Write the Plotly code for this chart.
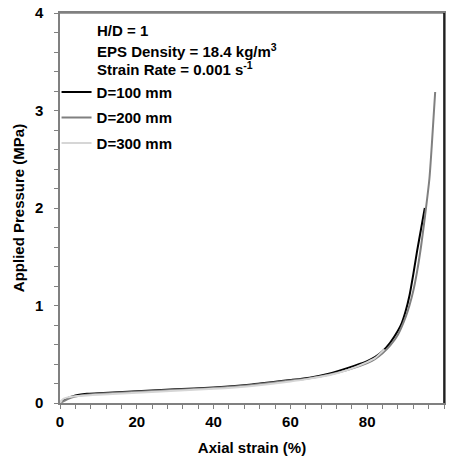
import plotly.graph_objects as go

# ---- data ----
strain_100 = [0, 0.5, 1, 2, 3, 5, 7, 10, 15, 20, 30, 40, 50, 60, 65, 70, 75, 78, 80, 82, 84, 86, 88, 89, 90, 91, 92, 93, 94, 95]
press_100 = [0, 0.02, 0.035, 0.05, 0.065, 0.085, 0.095, 0.10, 0.11, 0.12, 0.14, 0.16, 0.19, 0.235, 0.26, 0.30, 0.36, 0.40, 0.43, 0.47, 0.53, 0.62, 0.74, 0.82, 0.94, 1.10, 1.32, 1.56, 1.78, 2.0]

strain_200 = [0, 1, 2, 3, 5, 7, 10, 15, 20, 30, 40, 50, 60, 65, 70, 75, 80, 82, 84, 86, 88, 90, 91, 92, 93, 94, 95, 96.2, 96.8, 97.7]
press_200 = [0, 0.02, 0.04, 0.055, 0.075, 0.085, 0.095, 0.105, 0.115, 0.135, 0.155, 0.185, 0.23, 0.255, 0.29, 0.34, 0.41, 0.45, 0.51, 0.59, 0.70, 0.88, 1.0, 1.15, 1.35, 1.6, 1.9, 2.3, 2.63, 3.19]

strain_300 = [0, 0.5, 1, 2, 3, 5, 7, 10, 15, 20, 30, 40, 50, 60, 65, 70, 75, 80, 82, 84.5]
press_300 = [0, 0.03, 0.045, 0.058, 0.065, 0.072, 0.078, 0.085, 0.095, 0.105, 0.125, 0.145, 0.175, 0.22, 0.25, 0.285, 0.34, 0.42, 0.46, 0.55]

series_names = ["D=100 mm", "D=200 mm", "D=300 mm"]
series_colors = ["#000000", "#808080", "#d6d6d6"]

x_ticks = [0, 20, 40, 60, 80, 100]
y_ticks = [0, 1, 2, 3, 4]

annot_lines = ["H/D = 1", "EPS Density = 18.4 kg/m<sup>3</sup>", "Strain Rate = 0.001 s<sup>-1</sup>"]

FONT = "Liberation Sans, Arial, sans-serif"
FS = 15

def bfont(size=FS):
    return dict(family=FONT, size=size, color="#000000", weight="bold")

fig = go.Figure()
for i, (xs, ys) in enumerate([(strain_100, press_100), (strain_200, press_200), (strain_300, press_300)]):
    fig.add_trace(go.Scatter(
        x=xs, y=ys, mode="lines", name=series_names[i],
        line=dict(color=series_colors[i], width=2, shape="spline", smoothing=0.6),
        legendgroup=f"g{i}",
    ))

axis_common = dict(
    showgrid=False, zeroline=False, showline=True, linecolor="#808080", linewidth=1.5,
    mirror=True, ticks="outside", ticklen=4, tickcolor="#808080", tickwidth=1,
    tickfont=bfont(), automargin=False,
)

fig.update_xaxes(
    range=[0, 100], tickvals=x_ticks, ticktext=[str(v) for v in x_ticks],
    minor=dict(dtick=4, ticks="outside", ticklen=4, tickcolor="#808080"),
    title=dict(text="Axial strain (%)", font=bfont(), standoff=15),
    ticklabelstandoff=0,
    **axis_common,
)
fig.update_yaxes(
    range=[0, 4], tickvals=y_ticks, ticktext=[str(v) for v in y_ticks],
    minor=dict(dtick=0.2, ticks="outside", ticklen=4, tickcolor="#808080"),
    title=dict(text="Applied Pressure (MPa)", font=bfont(), standoff=7),
    ticklabelstandoff=8,
    **axis_common,
)

# frame: top gray, right black
fig.add_shape(type="line", xref="paper", yref="paper", x0=0, x1=1, y0=1, y1=1,
              line=dict(color="#808080", width=1.5))
fig.add_shape(type="line", xref="paper", yref="paper", x0=1, x1=1, y0=0, y1=1,
              line=dict(color="#000000", width=1.5))

ann_y = [0.955, 0.905, 0.858]
for txt, yy in zip(annot_lines, ann_y):
    fig.add_annotation(text=txt, xref="paper", yref="paper", x=0.09, y=yy,
                       xanchor="left", yanchor="middle", showarrow=False,
                       font=bfont())

fig.update_layout(
    width=456, height=456,
    margin=dict(l=60, r=12, t=13, b=53),
    paper_bgcolor="white", plot_bgcolor="white",
    showlegend=True,
    legend=dict(x=-0.009, y=0.839, xanchor="left", yanchor="top",
                font=bfont(), bgcolor="rgba(0,0,0,0)", tracegroupgap=3, itemwidth=30),
)

fig.write_html("out.html", config={"displayModeBar": False},
               post_script="document.body.style.margin='0px';document.body.style.overflow='hidden';")
